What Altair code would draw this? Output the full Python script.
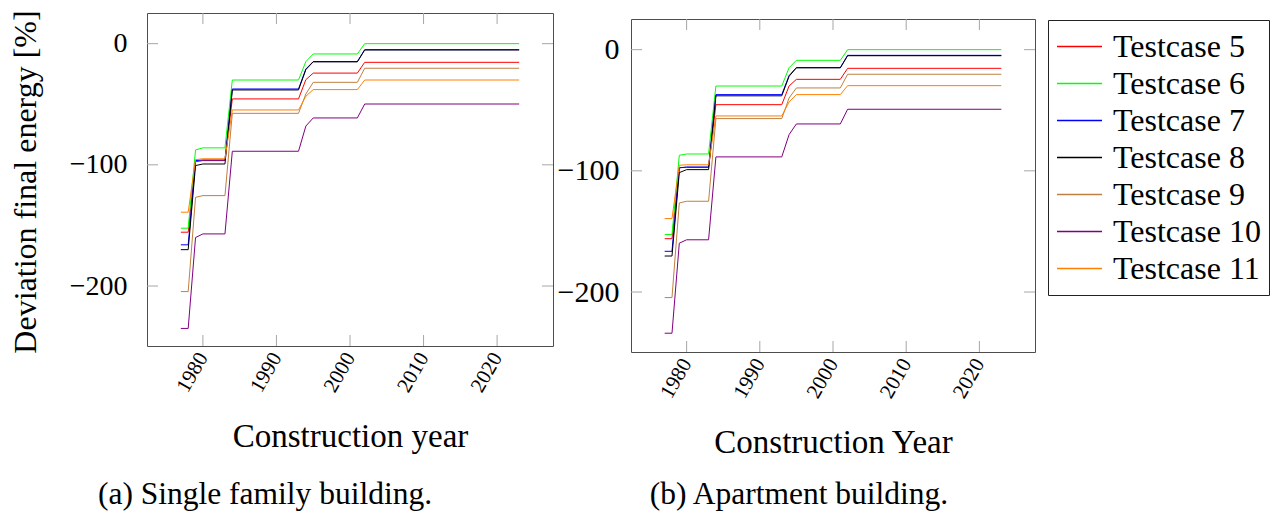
import altair as alt
import pandas as pd

# ---------------- data ----------------
years = [1977, 1978, 1979, 1980, 1983, 1984, 1993, 1994, 1995, 2001, 2002, 2023]
cases = ["Testcase 5", "Testcase 6", "Testcase 7", "Testcase 8",
         "Testcase 9", "Testcase 10", "Testcase 11"]
colors = ["#ff0000", "#00ff00", "#0000ff", "#000000", "#bf8040", "#800080", "#ff8000"]

# (a) Single family building
sfh_tc5 = [-155.6, -155.6, -97.5, -96.5, -96.5, -45.6, -45.6, -29.7, -24.3, -24.3, -15.4, -15.4]
sfh_tc6 = [-152.3, -152.3, -87.7, -86.0, -86.0, -30.0, -30.0, -14.8, -8.5, -8.5, 0.0, 0.0]
sfh_tc7 = [-166.0, -166.0, -96.5, -96.0, -96.0, -37.4, -37.4, -20.9, -14.8, -14.8, -5.0, -5.0]
sfh_tc8 = [-170.0, -170.0, -100.6, -99.3, -99.3, -38.2, -38.2, -21.4, -15.0, -15.0, -5.2, -5.2]
sfh_tc9 = [-204.6, -204.6, -126.8, -125.4, -125.4, -57.5, -57.5, -41.5, -31.9, -31.9, -20.3, -20.3]
sfh_tc10 = [-235.0, -235.0, -160.0, -157.0, -157.0, -88.8, -88.8, -68.0, -61.3, -61.3, -49.8, -49.8]
sfh_tc11 = [-139.1, -139.1, -95.7, -95.0, -95.0, -54.7, -54.7, -43.4, -37.9, -37.9, -30.0, -30.0]

# (b) Apartment building
apt_tc5 = [-156.0, -156.0, -97.2, -97.2, -97.2, -45.4, -45.4, -30.0, -24.5, -24.5, -15.4, -15.4]
apt_tc6 = [-152.6, -152.6, -87.2, -86.1, -86.1, -30.0, -30.0, -14.9, -8.8, -8.8, 0.0, 0.0]
apt_tc7 = [-166.4, -166.4, -97.6, -96.8, -96.8, -37.1, -37.1, -21.4, -14.8, -14.8, -4.7, -4.7]
apt_tc8 = [-170.3, -170.3, -101.5, -99.0, -99.0, -38.1, -38.1, -22.0, -15.0, -15.0, -5.0, -5.0]
apt_tc9 = [-204.6, -204.6, -126.5, -125.1, -125.1, -56.9, -56.9, -39.9, -31.6, -31.6, -20.3, -20.3]
apt_tc10 = [-234.0, -234.0, -159.7, -156.9, -156.9, -88.5, -88.5, -70.1, -61.3, -61.3, -49.2, -49.2]
apt_tc11 = [-139.4, -139.4, -95.4, -95.0, -95.0, -54.7, -54.7, -43.2, -37.1, -37.1, -29.7, -29.7]

xtick_years = [1980, 1990, 2000, 2010, 2020]
ytick_values = [0, -100, -200]
x_domain = [1972.4, 2027.6]
y_domain = [-249.5, 25.3]

# ---------------- helpers ----------------
FONT = "Liberation Serif"
TICK_COLOR = "#a6a6a6"
TICK_LEN = 11


def long_df(series_list):
    rows = []
    for name, vals in zip(cases, series_list):
        for yr, v in zip(years, vals):
            rows.append({"year": yr, "value": v, "case": name})
    return pd.DataFrame(rows)


sfh_df = long_df([sfh_tc5, sfh_tc6, sfh_tc7, sfh_tc8, sfh_tc9, sfh_tc10, sfh_tc11])
apt_df = long_df([apt_tc5, apt_tc6, apt_tc7, apt_tc8, apt_tc9, apt_tc10, apt_tc11])
xt_df = pd.DataFrame({"year": xtick_years})
yt_df = pd.DataFrame({"value": ytick_values})


def panel(df, W, H, xtitle, caption, cap_dx, cap_offset, ytitle, label_pad, label_fs, legend):
    yaxis_kw = dict(values=ytick_values, ticks=False, tickSize=0, domain=False, grid=False,
                    labelFont=FONT, labelFontSize=label_fs, labelColor="black",
                    labelPadding=label_pad)
    if ytitle:
        yaxis_kw.update(title=ytitle, titleX=-112, titleY=H / 2 + 2, titleAngle=-90,
                        titleAlign="center", titleBaseline="alphabetic",
                        titleFont=FONT, titleFontSize=32, titleFontWeight="normal",
                        titleColor="black")
    else:
        yaxis_kw.update(title=None)
    xaxis = alt.Axis(values=xtick_years, format="d", ticks=False, tickSize=0, domain=False,
                     grid=False, labelAngle=-60, labelAlign="right", labelBaseline="middle",
                     labelFont=FONT, labelFontSize=21, labelColor="black", labelPadding=8,
                     title=xtitle, titleX=W / 2, titleY=100, titleAlign="center",
                     titleBaseline="alphabetic", titleFont=FONT, titleFontSize=33,
                     titleFontWeight="normal", titleColor="black")
    X = alt.X("year:Q", scale=alt.Scale(domain=x_domain, nice=False, zero=False), axis=xaxis)
    Y = alt.Y("value:Q", scale=alt.Scale(domain=y_domain, nice=False, zero=False),
              axis=alt.Axis(**yaxis_kw))

    color = alt.Color("case:N", scale=alt.Scale(domain=cases, range=colors),
                      legend=legend)
    lines = alt.Chart(df).mark_line(strokeWidth=1).encode(x=X, y=Y, color=color,
                                                          order=alt.Order("year:Q"))
    ytl = alt.Chart(yt_df).mark_rule(color=TICK_COLOR, strokeWidth=1).encode(
        y=Y, x=alt.value(0), x2=alt.value(TICK_LEN))
    ytr = alt.Chart(yt_df).mark_rule(color=TICK_COLOR, strokeWidth=1).encode(
        y=Y, x=alt.value(W - TICK_LEN), x2=alt.value(W))
    xtt = alt.Chart(xt_df).mark_rule(color=TICK_COLOR, strokeWidth=1).encode(
        x=X, y=alt.value(0), y2=alt.value(TICK_LEN))
    xtb = alt.Chart(xt_df).mark_rule(color=TICK_COLOR, strokeWidth=1).encode(
        x=X, y=alt.value(H - TICK_LEN), y2=alt.value(H))
    return alt.layer(ytl, ytr, xtt, xtb, lines).properties(
        width=W, height=H,
        title=alt.TitleParams(text=caption, orient="bottom", anchor="middle", dx=cap_dx,
                              offset=cap_offset, baseline="alphabetic", font=FONT,
                              fontSize=31.5, fontWeight="normal", color="black"),
    )


legend = alt.Legend(title=None, orient="none", legendX=417, legendY=1,
                    symbolType="stroke", symbolSize=2025, symbolStrokeWidth=1.5,
                    labelFont=FONT, labelFontSize=32, labelColor="black", labelLimit=0,
                    labelOffset=10, strokeColor="#222222", fillColor="white",
                    padding=8, rowPadding=0, clipHeight=37)

left = panel(sfh_df, 406, 333, "Construction year", "(a) Single family building.",
             -85, 51, "Deviation final energy [%]", 20, 28, None)
right = panel(apt_df, 404, 333, "Construction Year", "(b) Apartment building.",
              -34, 45, None, 12, 30, legend)

spacer = alt.Chart(pd.DataFrame({"s": [0]})).mark_point(opacity=0).encode(
    x=alt.X("s:Q", axis=None), y=alt.Y("s:Q", axis=None)
).properties(width=404, height=1, view=alt.ViewBackground(stroke=None))

right_col = alt.vconcat(spacer, right, spacing=5, bounds="flush").resolve_scale(
    color="independent").resolve_legend(color="independent")

chart = alt.hconcat(left, right_col, spacing=78, bounds="flush").resolve_scale(
    color="independent").resolve_legend(color="independent").properties(
    padding={"left": 0, "top": 1, "right": 0, "bottom": 0},
    background="white",
).configure_view(stroke="#4d4d4d", strokeWidth=1)

chart.save("out.html", embed_options={"renderer": "svg", "actions": False})
